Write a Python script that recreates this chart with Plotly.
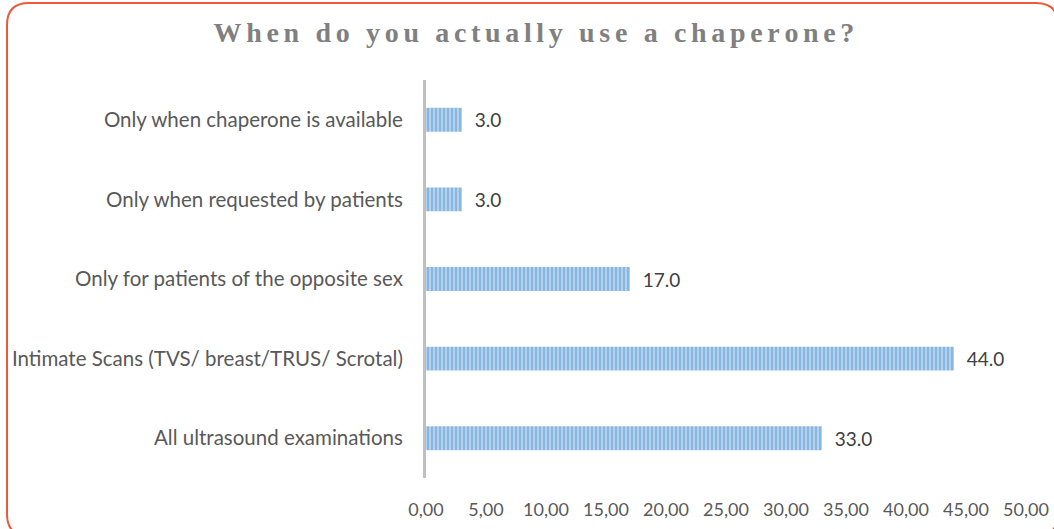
import plotly.graph_objects as go

categories = [
    "Only when chaperone is available",
    "Only when requested by patients",
    "Only for patients of the opposite sex",
    "Intimate Scans (TVS/ breast/TRUS/ Scrotal)",
    "All ultrasound examinations",
]
values = [3.0, 3.0, 17.0, 44.0, 33.0]
tick_vals = [0, 5, 10, 15, 20, 25, 30, 35, 40, 45, 50]
tick_text = ["0,00", "5,00", "10,00", "15,00", "20,00", "25,00",
             "30,00", "35,00", "40,00", "45,00", "50,00"]
title_text = "When do you actually use a chaperone?"

W, H = 1054, 529
L, R, T, B = 426, 28, 80, 51

def spaced(s):
    return "\u2006".join(s)

fig = go.Figure(go.Bar(
    y=categories, x=values, orientation="h",
    marker=dict(color="#bdd7ee",
                line=dict(width=0),
                pattern=dict(shape="|", fgcolor="#5b9bd5", bgcolor="#b4d1ec",
                             size=4, solidity=0.5, fillmode="overlay")),
    width=0.3,
    texttemplate="\u00a0\u00a0%{x:.1f}",
    textposition="outside",
    textfont=dict(family="Lato", size=19, color="#404040"),
    cliponaxis=False,
))

fig.update_layout(
    width=W, height=H,
    margin=dict(l=L, r=R, t=T, b=B, autoexpand=False),
    paper_bgcolor="white", plot_bgcolor="white",
    showlegend=False,
    title=dict(text=spaced(title_text), xanchor="center",
               xref="paper", y=1 - 32 / H, yanchor="middle", yref="container",
               font=dict(family="Liberation Serif", size=28, color="#808080",
                         weight="bold")),
    font=dict(family="Lato", size=18, color="#595959"),
)
fig.update_layout(title_x=(534 - L) / (W - L - R))

fig.update_xaxes(range=[0, 50], tickvals=tick_vals, ticktext=tick_text,
                 showgrid=False, zeroline=False, showline=False, ticks="",
                 ticklabelstandoff=19, fixedrange=True, automargin=False,
                 tickfont=dict(family="Lato", size=18, color="#595959"))
fig.update_yaxes(autorange="reversed", showgrid=False, zeroline=False,
                 showline=True, linecolor="#bfbfbf", linewidth=3,
                 ticks="", ticklabelstandoff=16, automargin=False,
                 tickfont=dict(family="Lato", size=20.5, color="#595959"))

# rounded border
x0, y0, x1, y1, rr = 7, 3, 1058, 536, 22
def px(x):
    return (x - L) / (W - L - R)
def py(y):
    return (H - B - y) / (H - T - B)
path = (f"M {px(x0+rr)},{py(y0)} L {px(x1-rr)},{py(y0)} "
        f"Q {px(x1)},{py(y0)} {px(x1)},{py(y0+rr)} "
        f"L {px(x1)},{py(y1-rr)} Q {px(x1)},{py(y1)} {px(x1-rr)},{py(y1)} "
        f"L {px(x0+rr)},{py(y1)} Q {px(x0)},{py(y1)} {px(x0)},{py(y1-rr)} "
        f"L {px(x0)},{py(y0+rr)} Q {px(x0)},{py(y0)} {px(x0+rr)},{py(y0)} Z")
fig.add_shape(type="path", path=path, xref="paper", yref="paper",
              line=dict(color="#ec5a3c", width=2), layer="above")

fig.write_html("out.html")
